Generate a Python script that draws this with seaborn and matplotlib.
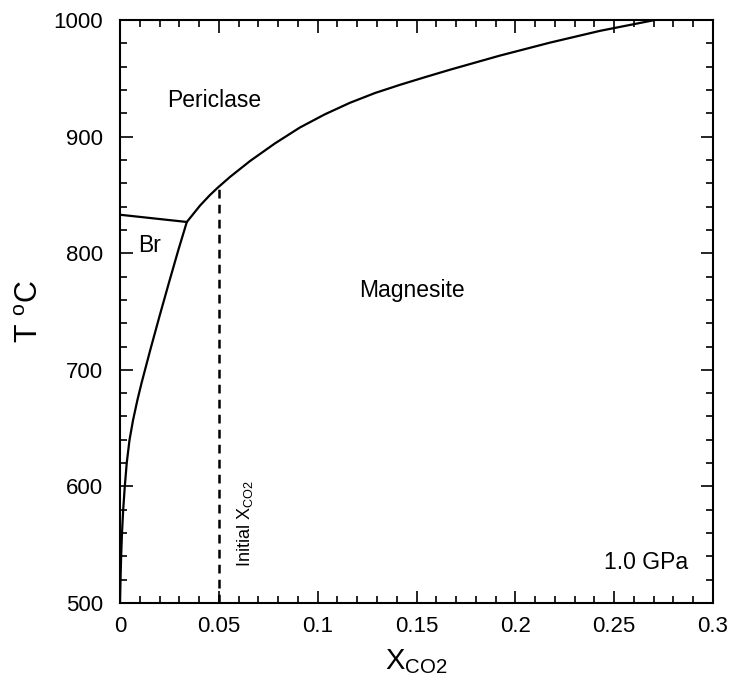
import matplotlib
matplotlib.use("Agg")
import matplotlib.pyplot as plt
import seaborn as sns
import pandas as pd
from matplotlib.ticker import MultipleLocator

# Magnesite / periclase / brucite boundary curve
curve_x = [0.0, 0.00025, 0.00056, 0.0010, 0.0016, 0.0024, 0.0034, 0.0048, 0.0066,
           0.0088, 0.0109, 0.0153, 0.0200, 0.0247, 0.0295, 0.0338,
           0.0405, 0.0455, 0.0497, 0.0557, 0.0658, 0.0784, 0.091, 0.1036, 0.1163,
           0.129, 0.1416, 0.1543, 0.167, 0.192, 0.2175, 0.2428, 0.2706]
curve_t = [500, 519.7, 539.5, 560.0, 579.8, 599.5, 620.1, 639.8, 656.9,
           674.1, 688.7, 717.0, 746.1, 774.4, 802.7, 826.8,
           840.9, 849.9, 856.6, 865.5, 879.1, 894.2, 907.8, 919.1, 929.0,
           937.4, 944.4, 951.0, 957.4, 969.4, 980.6, 990.7, 1000]

# Brucite / periclase boundary
br_x = [0.0, 0.0338]
br_t = [833, 826.8]

# Initial XCO2 line
init_x = [0.05, 0.05]
init_t = [500, 856]

sns.set_theme(style="ticks")
plt.rcParams['font.family'] = ['Liberation Sans', 'DejaVu Sans']
plt.rcParams['mathtext.fontset'] = 'custom'
plt.rcParams['mathtext.rm'] = 'Liberation Sans'

fig = plt.figure(figsize=(7.34, 6.88), dpi=100)
ax = fig.add_axes([0.1635, 0.1235, 0.8079, 0.8474])

df_c = pd.DataFrame({"x": curve_x, "t": curve_t})
df_b = pd.DataFrame({"x": br_x, "t": br_t})
df_i = pd.DataFrame({"x": init_x, "t": init_t})

sns.lineplot(data=df_c, x="x", y="t", sort=False, estimator=None, color="black", lw=1.6, ax=ax)
sns.lineplot(data=df_b, x="x", y="t", sort=False, estimator=None, color="black", lw=1.6, ax=ax)
sns.lineplot(data=df_i, x="x", y="t", sort=False, estimator=None, color="black", lw=1.8, ax=ax)
dline = ax.get_lines()[-1]
dline.set_color("black")
dline.set_linewidth(1.8)
dline.set_dashes([3.5, 2.5])

ax.set_xlim(0, 0.3)
ax.set_ylim(500, 1000)
ax.xaxis.set_major_locator(MultipleLocator(0.05))
ax.xaxis.set_minor_locator(MultipleLocator(0.01))
ax.yaxis.set_major_locator(MultipleLocator(100))
ax.yaxis.set_minor_locator(MultipleLocator(20))
ax.set_xticks([0, 0.05, 0.1, 0.15, 0.2, 0.25, 0.3])
ax.set_xticklabels(["0", "0.05", "0.1", "0.15", "0.2", "0.25", "0.3"])
ax.tick_params(which="both", direction="in", top=True, right=True, labelsize=16,
               width=1.2, color="black", labelcolor="black")
ax.tick_params(which="major", length=9)
ax.tick_params(which="minor", length=5)
ax.tick_params(axis="x", which="major", pad=9)
ax.tick_params(axis="y", which="major", pad=12)
for s in ax.spines.values():
    s.set_linewidth(1.5)
    s.set_color("black")

ax.set_xlabel(r"X$_{\mathregular{CO2}}$", fontsize=21, labelpad=8, color="black")
ax.set_ylabel(r"T $^{\mathregular{o}}$C", fontsize=22, labelpad=6, color="black")

ax.text(0.0238, 931, "Periclase", fontsize=16.5, color="black", ha="left", va="center")
ax.text(0.0152, 807, "Br", fontsize=16.5, color="black", ha="center", va="center")
ax.text(0.1477, 768, "Magnesite", fontsize=16.5, color="black", ha="center", va="center")
ax.text(0.2873, 535, "1.0 GPa", fontsize=16.5, color="black", ha="right", va="center")
ax.text(0.0632, 531, r"Initial X$_{\mathregular{CO2}}$", fontsize=13, color="black",
        rotation=90, ha="center", va="bottom")

fig.savefig("out.png", dpi=100, facecolor="white")
